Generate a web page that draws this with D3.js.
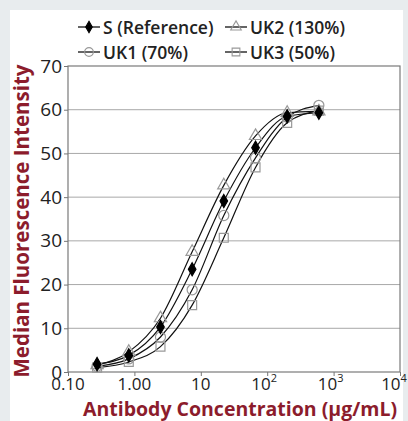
<!DOCTYPE html>
<html>
<head>
<meta charset="utf-8">
<script src="https://cdn.jsdelivr.net/npm/d3@7"></script>
<style>
  body { margin: 0; background: #e8ecee; }
  svg { display: block; }
  text { font-family: "Open Sans", "Noto Sans", sans-serif; }
</style>
</head>
<body>
<svg id="chart" width="408" height="421"></svg>
<script>
// concentrations (µg/mL), 3-fold dilution series
var conc = [0.274, 0.823, 2.47, 7.41, 22.2, 66.7, 200, 600];
var sRef = [1.8, 3.8, 10.3, 23.5, 39.1, 51.3, 58.5, 59.3];
var uk1  = [1.3, 3.0, 8.0, 18.8, 35.8, 49.0, 58.3, 61.0];
var uk2  = [1.6, 4.6, 12.3, 27.5, 42.7, 54.0, 59.3, 59.6];
var uk3  = [1.0, 2.3, 5.8, 15.3, 30.7, 46.8, 57.0, 59.8];
var yTicks = [0, 10, 20, 30, 40, 50, 60, 70];
var xTicks = [0.1, 1, 10, 100, 1000, 10000];
var xTickLabels = [["0.10", ""], ["1.00", ""], ["10", ""], ["10", "2"], ["10", "3"], ["10", "4"]];

var svg = d3.select("#chart");
var margin = {left: 68, right: 8, top: 66, bottom: 49};
var W = 408, H = 421;

svg.append("rect")
  .attr("x", 10).attr("y", 10)
  .attr("width", 393).attr("height", 411)
  .attr("fill", "#fff");

var x = d3.scaleLog().domain([0.1, 10000]).range([margin.left, W - margin.right]);
var y = d3.scaleLinear().domain([0, 70]).range([H - margin.bottom, margin.top]);

// grid
svg.append("g").selectAll("line")
  .data(yTicks.slice(1, -1))
  .join("line")
  .attr("x1", x(0.1)).attr("x2", x(10000))
  .attr("y1", function(d){ return y(d); })
  .attr("y2", function(d){ return y(d); })
  .attr("stroke", "#a8a8a8").attr("stroke-width", 1);

svg.append("rect")
  .attr("x", x(0.1)).attr("y", y(70))
  .attr("width", x(10000) - x(0.1)).attr("height", y(0) - y(70))
  .attr("fill", "none").attr("stroke", "#7a7a7a").attr("stroke-width", 1.2);

// axes
var yAxis = svg.append("g")
  .attr("transform", "translate(" + x(0.1) + ",0)")
  .call(d3.axisLeft(y).tickValues(yTicks).tickSize(4).tickPadding(2));
var xAxis = svg.append("g")
  .attr("transform", "translate(0," + y(0) + ")")
  .call(d3.axisBottom(x).tickValues(xTicks).tickSize(4).tickFormat("").tickPadding(2));
[yAxis, xAxis].forEach(function(a){
  a.select(".domain").remove();
  a.selectAll("line").attr("stroke", "#777");
});
yAxis.selectAll("text")
  .attr("font-size", 19).attr("fill", "#222")
  .attr("font-family", "'Open Sans', sans-serif");

var xl = svg.append("g").selectAll("text")
  .data(xTicks)
  .join("text")
  .attr("x", function(d, i){
    if (i == xTicks.length - 1) return x(d) - 6;
    return x(d) - (xTickLabels[i][1] ? 3 : 0);
  })
  .attr("y", y(0) + 18)
  .attr("text-anchor", "middle")
  .attr("font-size", 17).attr("fill", "#222");
xl.append("tspan").text(function(d, i){ return xTickLabels[i][0]; });
xl.append("tspan")
  .attr("font-size", 11).attr("dy", -8)
  .text(function(d, i){ return xTickLabels[i][1]; });

// axis titles
svg.append("text")
  .attr("transform", "translate(29," + ((y(0) + y(70)) / 2 + 2) + ") rotate(-90)")
  .attr("text-anchor", "middle")
  .attr("font-size", 20.5).attr("font-weight", 700).attr("fill", "#8c1c2c")
  .text("Median Fluorescence Intensity");
svg.append("text")
  .attr("x", 240).attr("y", 415.5)
  .attr("text-anchor", "middle")
  .attr("font-size", 19.5).attr("font-weight", 700).attr("fill", "#8c1c2c")
  .text("Antibody Concentration (µg/mL)");

// series
var series = [
  {name: "S (Reference)", vals: sRef, sym: d3.symbolDiamond, size: 50, fill: "#000", stroke: "#000"},
  {name: "UK1 (70%)", vals: uk1, sym: d3.symbolCircle, size: 80, fill: "none", stroke: "#999"},
  {name: "UK2 (130%)", vals: uk2, sym: d3.symbolTriangle, size: 65, fill: "none", stroke: "#999"},
  {name: "UK3 (50%)", vals: uk3, sym: d3.symbolSquare, size: 80, fill: "none", stroke: "#999"}
];

var line = d3.line()
  .x(function(d){ return x(d[0]); })
  .y(function(d){ return y(d[1]); })
  .curve(d3.curveMonotoneX);

series.forEach(function(s){
  var pts = conc.map(function(c, i){ return [c, s.vals[i]]; });
  svg.append("path")
    .attr("d", line(pts))
    .attr("fill", "none").attr("stroke", "#111").attr("stroke-width", 1.2);
});
// draw open markers first, reference on top
[1, 2, 3, 0].forEach(function(k){
  var s = series[k];
  svg.append("g").selectAll("path")
    .data(conc.map(function(c, i){ return [c, s.vals[i]]; }))
    .join("path")
    .attr("transform", function(d){ return "translate(" + x(d[0]) + "," + y(d[1]) + ")"; })
    .attr("d", d3.symbol().type(s.sym).size(s.size))
    .attr("fill", s.fill).attr("stroke", s.stroke).attr("stroke-width", 1.2);
});

// legend
var legendPos = [[78, 27], [78, 52], [225, 27], [225, 52]];
series.forEach(function(s, j){
  var p = legendPos[j];
  var g = svg.append("g").attr("transform", "translate(" + p[0] + "," + p[1] + ")");
  g.append("line").attr("x1", 0).attr("x2", 22).attr("y1", 0).attr("y2", 0)
    .attr("stroke", "#111").attr("stroke-width", 1.3);
  g.append("path").attr("transform", "translate(11,0)")
    .attr("d", d3.symbol().type(s.sym).size(s.size * 0.75))
    .attr("fill", s.fill).attr("stroke", s.stroke).attr("stroke-width", 1.1);
  g.append("text").attr("x", 25).attr("y", 6.5)
    .attr("font-size", 17.5).attr("font-weight", 600).attr("fill", "#222")
    .text(s.name);
});
</script>
</body>
</html>
